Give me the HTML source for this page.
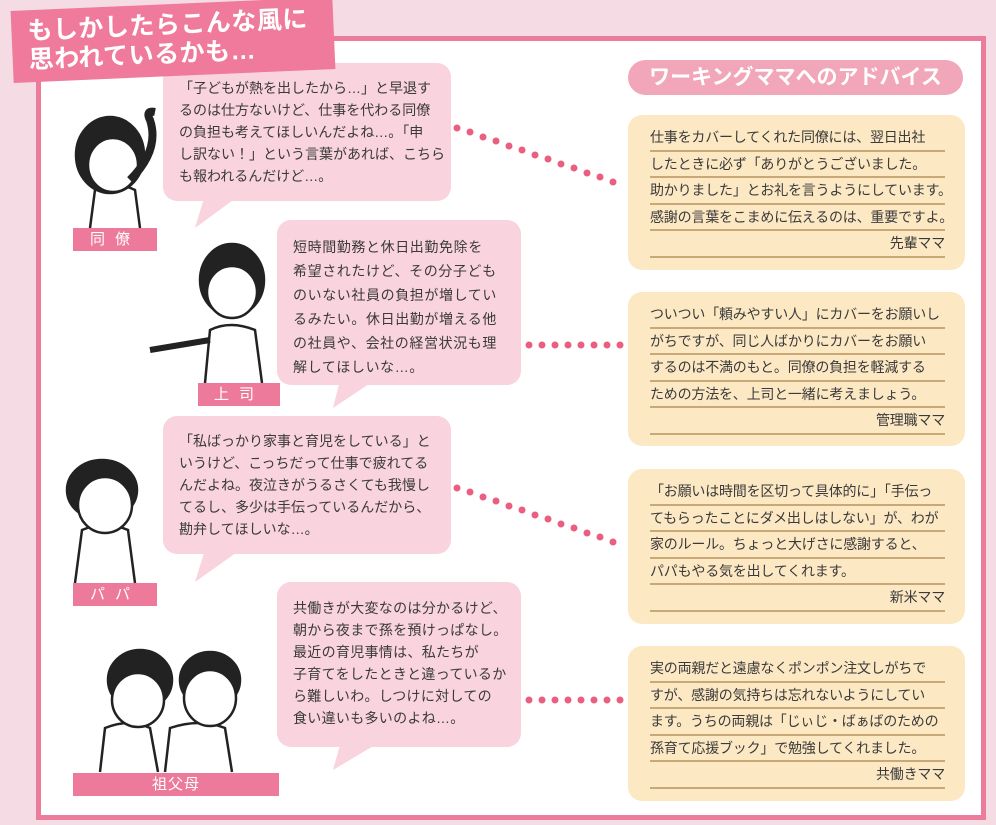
<!DOCTYPE html>
<html><head><meta charset="utf-8"><style>
*{margin:0;padding:0;box-sizing:border-box}
body{width:996px;height:825px;overflow:hidden;background:#f5dbe3;font-family:"Liberation Sans","Noto Sans CJK JP",sans-serif;position:relative;color:#3a3a3a}
.abs{position:absolute}
.panel{left:36px;top:36px;width:950px;height:784px;background:#fff;border:5px solid #ec7c9c}
.title{left:12px;top:4px;width:322px;height:72px;background:#ef7a9b;transform:rotate(-2.5deg);color:#fff;font-size:25px;font-weight:bold;line-height:29px;padding:7px 0 0 16px;letter-spacing:0.5px;z-index:5;white-space:nowrap}
.bub{background:#f9d3dd;border-radius:14px;font-size:14px;line-height:22px;padding:12px 0 0 16px;white-space:nowrap}
.adv{background:#fde8c4;border-radius:14px;font-size:14px;padding:10px 0 0 22px}
.adv div{width:295px;border-bottom:2.5px solid #c9a878;height:26.5px;line-height:24px;white-space:nowrap;letter-spacing:-0.2px}
.adv div.r{text-align:right}
.lab{background:#ee7a9b;color:#fff;font-size:15px;text-align:center;line-height:23px;letter-spacing:10px}
.pill{left:628px;top:60px;width:335px;height:35px;border-radius:18px;background:#f1a6ba;color:#fff;font-size:21px;font-weight:bold;text-align:center;line-height:35px}
</style></head><body>
<div class="abs panel"></div>
<div class="abs title">もしかしたらこんな風に<br>思われているかも…</div>
<div class="abs pill">ワーキングママへのアドバイス</div>

<svg class="abs" style="left:0;top:0" width="996" height="825">
<g fill="#f9d3dd">
<polygon points="205,195 240,195 195,228"/>
<polygon points="340,380 375,380 333,408"/>
<polygon points="205,550 240,550 195,582"/>
<polygon points="340,745 375,745 333,770"/>
</g>
<g fill="#ea5f7f">
<circle cx="457" cy="128" r="3.5"/><circle cx="470" cy="132" r="3.5"/><circle cx="483" cy="137" r="3.5"/><circle cx="496" cy="141" r="3.5"/><circle cx="509" cy="146" r="3.5"/><circle cx="522" cy="150" r="3.5"/><circle cx="535" cy="155" r="3.5"/><circle cx="548" cy="159" r="3.5"/><circle cx="561" cy="164" r="3.5"/><circle cx="574" cy="168" r="3.5"/><circle cx="587" cy="173" r="3.5"/><circle cx="600" cy="177" r="3.5"/><circle cx="613" cy="182" r="3.5"/>
<circle cx="529" cy="345" r="3.5"/><circle cx="542" cy="345" r="3.5"/><circle cx="555" cy="345" r="3.5"/><circle cx="568" cy="345" r="3.5"/><circle cx="581" cy="345" r="3.5"/><circle cx="594" cy="345" r="3.5"/><circle cx="607" cy="345" r="3.5"/><circle cx="620" cy="345" r="3.5"/>
<circle cx="457" cy="488" r="3.5"/><circle cx="470" cy="492" r="3.5"/><circle cx="483" cy="497" r="3.5"/><circle cx="496" cy="501" r="3.5"/><circle cx="509" cy="506" r="3.5"/><circle cx="522" cy="510" r="3.5"/><circle cx="535" cy="515" r="3.5"/><circle cx="548" cy="519" r="3.5"/><circle cx="561" cy="524" r="3.5"/><circle cx="574" cy="528" r="3.5"/><circle cx="587" cy="533" r="3.5"/><circle cx="600" cy="537" r="3.5"/><circle cx="613" cy="542" r="3.5"/>
<circle cx="529" cy="700" r="3.5"/><circle cx="542" cy="700" r="3.5"/><circle cx="555" cy="700" r="3.5"/><circle cx="568" cy="700" r="3.5"/><circle cx="581" cy="700" r="3.5"/><circle cx="594" cy="700" r="3.5"/><circle cx="607" cy="700" r="3.5"/><circle cx="620" cy="700" r="3.5"/>
</g>
<g stroke="#222" stroke-width="2.5" fill="#fff">
<path d="M90,228 L95,190 Q115,180 135,190 L140,228" />
<ellipse cx="110" cy="155" rx="34" ry="38" fill="#222"/>
<ellipse cx="113" cy="165" rx="25" ry="27"/>
<path d="M130,180 Q160,150 150,120 Q145,110 155,112" fill="none" stroke-width="8"/>
<path d="M205,383 L210,330 Q230,320 255,330 L262,383"/>
<path d="M210,340 L150,350" stroke-width="6"/>
<ellipse cx="232" cy="280" rx="32" ry="36" fill="#222"/>
<ellipse cx="232" cy="292" rx="25" ry="26"/>
<path d="M75,583 L82,530 Q105,520 128,530 L135,583"/>
<ellipse cx="102" cy="490" rx="35" ry="30" fill="#222"/>
<ellipse cx="105" cy="505" rx="27" ry="28"/>
<path d="M100,772 L105,728 Q130,718 150,728 L158,772"/>
<path d="M165,772 L170,728 Q200,718 225,728 L232,772"/>
<ellipse cx="140" cy="680" rx="32" ry="30" fill="#222"/>
<ellipse cx="138" cy="700" rx="26" ry="27"/>
<ellipse cx="210" cy="680" rx="30" ry="28" fill="#222"/>
<ellipse cx="210" cy="698" rx="26" ry="28"/>
</g>
</svg>

<div class="abs bub" style="left:163px;top:63px;width:288px;height:138px;padding-top:14px">「子どもが熱を出したから…」と早退す<br>るのは仕方ないけど、仕事を代わる同僚<br>の負担も考えてほしいんだよね…。「申<br>し訳ない！」という言葉があれば、こちら<br>も報われるんだけど…。</div>
<div class="abs bub" style="left:277px;top:220px;width:244px;height:165px;padding-top:15px;line-height:24px;letter-spacing:0.6px">短時間勤務と休日出勤免除を<br>希望されたけど、その分子ども<br>のいない社員の負担が増してい<br>るみたい。休日出勤が増える他<br>の社員や、会社の経営状況も理<br>解してほしいな…。</div>
<div class="abs bub" style="left:163px;top:416px;width:288px;height:138px;padding-top:14px">「私ばっかり家事と育児をしている」と<br>いうけど、こっちだって仕事で疲れてる<br>んだよね。夜泣きがうるさくても我慢し<br>てるし、多少は手伝っているんだから、<br>勘弁してほしいな…。</div>
<div class="abs bub" style="left:277px;top:582px;width:244px;height:165px;padding-top:15px;letter-spacing:0.3px">共働きが大変なのは分かるけど、<br>朝から夜まで孫を預けっぱなし。<br>最近の育児事情は、私たちが<br>子育てをしたときと違っているか<br>ら難しいわ。しつけに対しての<br>食い違いも多いのよね…。</div>

<div class="abs lab" style="left:73px;top:228px;width:84px">同僚</div>
<div class="abs lab" style="left:198px;top:383px;width:82px">上司</div>
<div class="abs lab" style="left:73px;top:583px;width:84px">パパ</div>
<div class="abs lab" style="left:73px;top:773px;width:206px;letter-spacing:1px">祖父母</div>

<div class="abs adv" style="left:628px;top:115px;width:337px;height:155px"><div>仕事をカバーしてくれた同僚には、翌日出社</div><div>したときに必ず「ありがとうございました。</div><div>助かりました」とお礼を言うようにしています。</div><div>感謝の言葉をこまめに伝えるのは、重要ですよ。</div><div class="r">先輩ママ</div></div>
<div class="abs adv" style="left:628px;top:292px;width:337px;height:154px"><div>ついつい「頼みやすい人」にカバーをお願いし</div><div>がちですが、同じ人ばかりにカバーをお願い</div><div>するのは不満のもと。同僚の負担を軽減する</div><div>ための方法を、上司と一緒に考えましょう。</div><div class="r">管理職ママ</div></div>
<div class="abs adv" style="left:628px;top:469px;width:337px;height:155px"><div>「お願いは時間を区切って具体的に」「手伝っ</div><div>てもらったことにダメ出しはしない」が、わが</div><div>家のルール。ちょっと大げさに感謝すると、</div><div>パパもやる気を出してくれます。</div><div class="r">新米ママ</div></div>
<div class="abs adv" style="left:628px;top:646px;width:337px;height:155px"><div>実の両親だと遠慮なくポンポン注文しがちで</div><div>すが、感謝の気持ちは忘れないようにしてい</div><div>ます。うちの両親は「じぃじ・ばぁばのための</div><div>孫育て応援ブック」で勉強してくれました。</div><div class="r">共働きママ</div></div>
</body></html>
